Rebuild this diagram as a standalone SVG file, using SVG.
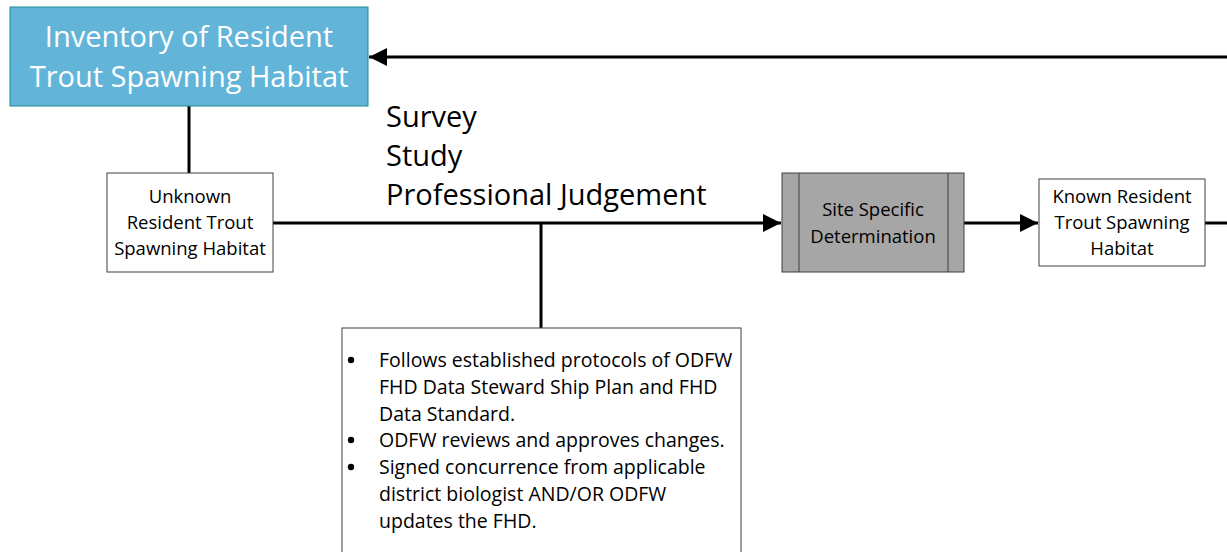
<svg xmlns="http://www.w3.org/2000/svg" width="1227" height="552" viewBox="0 0 1227 552">
<defs>
<style>
.box{fill:#fff;stroke:#404040;stroke-width:1}
.t{font-family:"Open Sans","Liberation Sans",sans-serif;fill:#000}
.s{font-size:18.5px}
.b{font-size:29px}
.c{stroke:#000;stroke-width:3;fill:none}
</style>
<marker id="ah" markerWidth="18" markerHeight="18" viewBox="0 0 18 18" refX="18" refY="9" orient="auto" markerUnits="userSpaceOnUse">
<path d="M0,0 L18,9 L0,18 Z" fill="#000"/>
</marker>
</defs>
<rect width="1227" height="552" fill="#fff"/>
<g id="connectors">
<line class="c" x1="1227" y1="57" x2="369" y2="57" marker-end="url(#ah)"/>
<line class="c" x1="189" y1="106" x2="189" y2="174"/>
<line class="c" x1="273" y1="223" x2="781" y2="223" marker-end="url(#ah)"/>
<line class="c" x1="541" y1="223" x2="541" y2="328"/>
<line class="c" x1="964" y1="223" x2="1038" y2="223" marker-end="url(#ah)"/>
<line class="c" x1="1205" y1="223" x2="1227" y2="223"/>
</g>
<g id="inventory">
<rect x="10" y="7" width="358" height="99" fill="#62B5D9" stroke="#1E8C8C" stroke-width="1"/>
<text class="t b" x="189" y="47" style="fill:#fff" text-anchor="middle">Inventory of Resident</text>
<text class="t b" x="189" y="87" style="fill:#fff" text-anchor="middle">Trout Spawning Habitat</text>
</g>
<g id="methods">
<text class="t b" x="386" y="127">Survey</text>
<text class="t b" x="386" y="166">Study</text>
<text class="t b" x="386" y="205">Professional Judgement</text>
</g>
<g id="unknown">
<rect class="box" x="107" y="173" width="166" height="99"/>
<text class="t s" x="190" y="203" text-anchor="middle">Unknown</text>
<text class="t s" x="190" y="229" text-anchor="middle">Resident Trout</text>
<text class="t s" x="190" y="255" text-anchor="middle">Spawning Habitat</text>
</g>
<g id="site">
<rect x="782" y="173" width="182" height="99" fill="#A6A6A6" stroke="#404040" stroke-width="1"/>
<line x1="799" y1="173" x2="799" y2="272" stroke="#404040" stroke-width="1"/>
<line x1="948" y1="173" x2="948" y2="272" stroke="#404040" stroke-width="1"/>
<text class="t s" x="873" y="216" text-anchor="middle">Site Specific</text>
<text class="t s" x="873" y="243" text-anchor="middle">Determination</text>
</g>
<g id="known">
<rect class="box" x="1039" y="179" width="166" height="87"/>
<text class="t s" x="1122" y="203" text-anchor="middle">Known Resident</text>
<text class="t s" x="1122" y="229" text-anchor="middle">Trout Spawning</text>
<text class="t s" x="1122" y="255" text-anchor="middle">Habitat</text>
</g>
<g id="criteria">
<rect class="box" x="342" y="328" width="399" height="230"/>
<g class="t" font-size="19.5">
<circle cx="351" cy="360" r="3.2" fill="#000"/>
<text x="379" y="367">Follows established protocols of ODFW</text>
<text x="379" y="394">FHD Data Steward Ship Plan and FHD</text>
<text x="379" y="421">Data Standard.</text>
<circle cx="351" cy="440" r="3.2" fill="#000"/>
<text x="379" y="447">ODFW reviews and approves changes.</text>
<circle cx="351" cy="467" r="3.2" fill="#000"/>
<text x="379" y="474">Signed concurrence from applicable</text>
<text x="379" y="501">district biologist AND/OR ODFW</text>
<text x="379" y="528">updates the FHD.</text>
</g>
</g>
</svg>
